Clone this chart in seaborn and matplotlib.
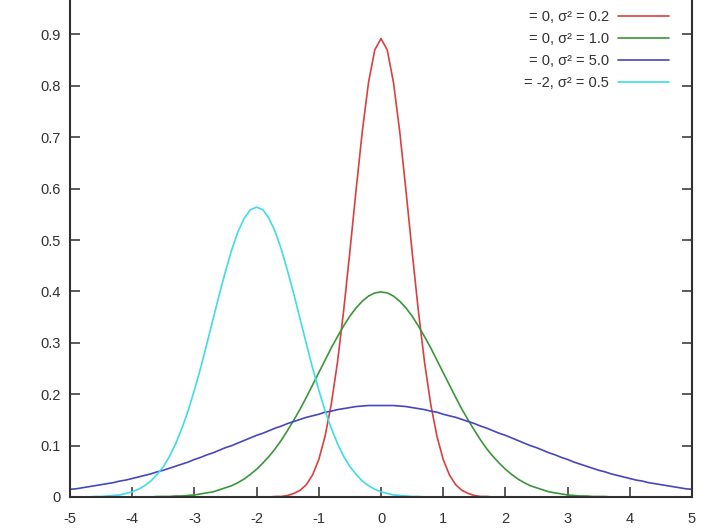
import numpy as np
import pandas as pd
import seaborn as sns
import matplotlib.pyplot as plt

# x sample positions, -5 .. 5 in steps of 0.1
x_vals = np.round(np.arange(-50, 51) / 10, 1)

# curve values (rows of 10 samples)
red_vals = [
    0, 0, 0, 0, 0, 0, 0, 0, 0, 0,
    0, 0, 0, 0, 0, 0, 0, 0, 0, 0,
    0, 0, 0, 0, 0, 0, 0, 0, 0, 0,
    0, 0, 0, .001, .001, .003, .007, .013, .024, .043,
    .073, .118, .180, .262, .363, .478, .598, .712, .807, .870,
    .892, .870, .807, .712, .598, .478, .363, .262, .180, .118,
    .073, .043, .024, .013, .007, .003, .001, .001, 0, 0,
    0, 0, 0, 0, 0, 0, 0, 0, 0, 0,
    0, 0, 0, 0, 0, 0, 0, 0, 0, 0,
    0, 0, 0, 0, 0, 0, 0, 0, 0, 0,
    0,
]
green_vals = [
    0, 0, 0, 0, 0, 0, 0, 0, 0, 0,
    0, 0, 0, 0, .001, .001, .001, .002, .002, .003,
    .004, .006, .008, .010, .014, .018, .022, .028, .035, .044,
    .054, .066, .079, .094, .111, .130, .150, .171, .194, .218,
    .242, .266, .290, .312, .333, .352, .368, .381, .391, .397,
    .399, .397, .391, .381, .368, .352, .333, .312, .290, .266,
    .242, .218, .194, .171, .150, .130, .111, .094, .079, .066,
    .054, .044, .035, .028, .022, .018, .014, .010, .008, .006,
    .004, .003, .002, .002, .001, .001, .001, 0, 0, 0,
    0, 0, 0, 0, 0, 0, 0, 0, 0, 0,
    0,
]
blue_vals = [
    .015, .016, .018, .020, .022, .024, .026, .028, .031, .033,
    .036, .039, .042, .045, .049, .052, .056, .060, .064, .068,
    .073, .077, .082, .086, .091, .096, .100, .105, .110, .115,
    .120, .124, .129, .134, .138, .143, .147, .151, .155, .158,
    .161, .165, .167, .170, .172, .174, .176, .177, .178, .178,
    .178, .178, .178, .177, .176, .174, .172, .170, .167, .165,
    .161, .158, .155, .151, .147, .143, .138, .134, .129, .124,
    .120, .115, .110, .105, .100, .096, .091, .086, .082, .077,
    .073, .068, .064, .060, .056, .052, .049, .045, .042, .039,
    .036, .033, .031, .028, .026, .024, .022, .020, .018, .016,
    .015,
]
cyan_vals = [
    0, 0, 0, 0, .001, .001, .002, .003, .004, .007,
    .010, .015, .022, .031, .044, .059, .079, .104, .134, .168,
    .208, .251, .298, .346, .394, .439, .481, .516, .542, .559,
    .564, .559, .542, .516, .481, .439, .394, .346, .298, .251,
    .208, .168, .134, .104, .079, .059, .044, .031, .022, .015,
    .010, .007, .004, .003, .002, .001, .001, 0, 0, 0,
    0, 0, 0, 0, 0, 0, 0, 0, 0, 0,
    0, 0, 0, 0, 0, 0, 0, 0, 0, 0,
    0, 0, 0, 0, 0, 0, 0, 0, 0, 0,
    0, 0, 0, 0, 0, 0, 0, 0, 0, 0,
    0,
]
labels = ["= 0, σ² = 0.2", "= 0, σ² = 1.0", "= 0, σ² = 5.0", "= -2, σ² = 0.5"]
colors = ["#d84040", "#3a963a", "#4646c0", "#40dce6"]

frames = []
for lab, vals in zip(labels, [red_vals, green_vals, blue_vals, cyan_vals]):
    frames.append(pd.DataFrame({"x": x_vals, "y": vals, "curve": lab}))
df = pd.concat(frames, ignore_index=True)

sns.set_style("white")
plt.rcParams['font.family'] = ['Liberation Sans', 'DejaVu Sans']
plt.rcParams['axes.unicode_minus'] = False

fig = plt.figure(figsize=(7.19, 5.29), dpi=100)
ax = fig.add_axes([70 / 719, 1 - 497 / 529, 622 / 719, 497 / 529])

sns.lineplot(data=df, x="x", y="y", hue="curve", hue_order=labels,
             palette=colors, linewidth=1.2, ax=ax)

ax.set_xlim(-5, 5)
ax.set_ylim(0, 0.967)
ax.set_xticks(range(-5, 6))
ax.set_yticks([0, 0.1, 0.2, 0.3, 0.4, 0.5, 0.6, 0.7, 0.8, 0.9])
ax.set_yticklabels(["0", "0.1", "0.2", "0.3", "0.4", "0.5", "0.6", "0.7", "0.8", "0.9"])
ax.set_xlabel("")
ax.set_ylabel("")

for side in ["left", "right", "bottom"]:
    ax.spines[side].set_color("#303030")
    ax.spines[side].set_linewidth(1.5)
ax.spines["top"].set_visible(False)

ax.tick_params(axis="both", direction="in", length=7, width=1.2, color="#404040",
               labelsize=10.5, labelcolor="#303030")
ax.tick_params(axis="y", right=True, left=True, pad=7)
ax.tick_params(axis="x", bottom=True, pad=11)

leg = ax.legend(loc="upper right", bbox_to_anchor=(0.979, 1.0), frameon=False,
                markerfirst=False, fontsize=10.5, handlelength=3.5,
                labelspacing=0.55, handletextpad=0.6, borderaxespad=0.3)
for t in leg.get_texts():
    t.set_color("#303030")

fig.savefig("out.png", dpi=100)
